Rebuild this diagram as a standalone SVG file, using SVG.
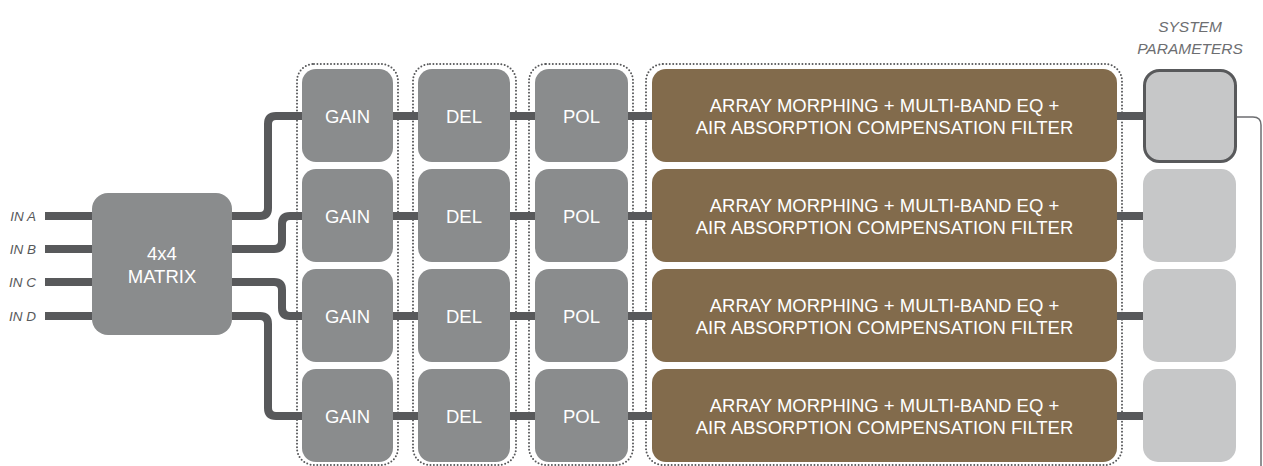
<svg xmlns="http://www.w3.org/2000/svg" width="1263" height="466" viewBox="0 0 1263 466">
<style>
.cont{fill:none;stroke:#58595b;stroke-width:2;stroke-dasharray:0 3.4;stroke-linecap:round}
.wire{fill:none;stroke:#58595b;stroke-width:8}
.blk{fill:#8a8c8d}
.arr{fill:#826b4c}
.sp{fill:#c6c7c8}
.wt{fill:#fff;font-family:"Liberation Sans",Arial,sans-serif;font-size:18.5px;text-anchor:middle}
.in{fill:#58595b;font-family:"Liberation Sans",Arial,sans-serif;font-size:13.5px;font-style:italic;text-anchor:end}
.hdr{fill:#6d6e71;font-family:"Liberation Sans",Arial,sans-serif;font-size:15.5px;font-style:italic;text-anchor:middle}
</style>
<rect width="1263" height="466" fill="#fff"/>
<g id="containers">
<rect class="cont" x="297" y="64" width="101" height="401" rx="17"/>
<rect class="cont" x="413" y="64" width="103" height="401" rx="17"/>
<rect class="cont" x="529" y="64" width="104" height="401" rx="17"/>
<rect class="cont" x="646" y="64" width="476" height="401" rx="17"/>
</g>
<g id="connectors">
<path class="wire" d="M45,216H92M45,249H92M45,282H92M45,316H92"/>
<path class="wire" d="M232,216H260Q268,216 268,208V124Q268,116 276,116H302"/>
<path class="wire" d="M232,249H274Q282,249 282,241V224Q282,216 290,216H302"/>
<path class="wire" d="M232,282H274Q282,282 282,290V308Q282,316 290,316H302"/>
<path class="wire" d="M232,316H260Q268,316 268,324V408Q268,416 276,416H302"/>
<path class="wire" d="M393,116H418M510,116H535M628,116H652M1117,116H1143"/>
<path class="wire" d="M393,216H418M510,216H535M628,216H652M1117,216H1143"/>
<path class="wire" d="M393,316H418M510,316H535M628,316H652M1117,316H1143"/>
<path class="wire" d="M393,416H418M510,416H535M628,416H652M1117,416H1143"/>
<path d="M1237,117H1253Q1261,117 1261,125V466" fill="none" stroke="#6d6e71" stroke-width="1.5"/>
</g>
<g id="inputs">
<text class="in" x="36" y="221">IN A</text>
<text class="in" x="36" y="254">IN B</text>
<text class="in" x="36" y="287">IN C</text>
<text class="in" x="36" y="321">IN D</text>
</g>
<g id="matrix">
<rect class="blk" x="92" y="193" width="140" height="142" rx="16"/>
<text class="wt" x="162" y="260" font-size="18">4x4</text>
<text class="wt" x="162" y="283" font-size="18">MATRIX</text>
</g>
<g id="row1">
<rect class="blk" x="302" y="69" width="91" height="93" rx="14"/><text class="wt" x="347.5" y="123">GAIN</text>
<rect class="blk" x="418" y="69" width="92" height="93" rx="14"/><text class="wt" x="464" y="123">DEL</text>
<rect class="blk" x="535" y="69" width="93" height="93" rx="14"/><text class="wt" x="581.5" y="123">POL</text>
<rect class="arr" x="652" y="69" width="465" height="93" rx="14"/>
<text class="wt" x="884.5" y="112">ARRAY MORPHING + MULTI-BAND EQ +</text>
<text class="wt" x="884.5" y="134">AIR ABSORPTION COMPENSATION FILTER</text>
</g>
<g id="row2">
<rect class="blk" x="302" y="169" width="91" height="93" rx="14"/><text class="wt" x="347.5" y="223">GAIN</text>
<rect class="blk" x="418" y="169" width="92" height="93" rx="14"/><text class="wt" x="464" y="223">DEL</text>
<rect class="blk" x="535" y="169" width="93" height="93" rx="14"/><text class="wt" x="581.5" y="223">POL</text>
<rect class="arr" x="652" y="169" width="465" height="93" rx="14"/>
<text class="wt" x="884.5" y="212">ARRAY MORPHING + MULTI-BAND EQ +</text>
<text class="wt" x="884.5" y="234">AIR ABSORPTION COMPENSATION FILTER</text>
</g>
<g id="row3">
<rect class="blk" x="302" y="269" width="91" height="93" rx="14"/><text class="wt" x="347.5" y="323">GAIN</text>
<rect class="blk" x="418" y="269" width="92" height="93" rx="14"/><text class="wt" x="464" y="323">DEL</text>
<rect class="blk" x="535" y="269" width="93" height="93" rx="14"/><text class="wt" x="581.5" y="323">POL</text>
<rect class="arr" x="652" y="269" width="465" height="93" rx="14"/>
<text class="wt" x="884.5" y="312">ARRAY MORPHING + MULTI-BAND EQ +</text>
<text class="wt" x="884.5" y="334">AIR ABSORPTION COMPENSATION FILTER</text>
</g>
<g id="row4">
<rect class="blk" x="302" y="369" width="91" height="93" rx="14"/><text class="wt" x="347.5" y="423">GAIN</text>
<rect class="blk" x="418" y="369" width="92" height="93" rx="14"/><text class="wt" x="464" y="423">DEL</text>
<rect class="blk" x="535" y="369" width="93" height="93" rx="14"/><text class="wt" x="581.5" y="423">POL</text>
<rect class="arr" x="652" y="369" width="465" height="93" rx="14"/>
<text class="wt" x="884.5" y="412">ARRAY MORPHING + MULTI-BAND EQ +</text>
<text class="wt" x="884.5" y="434">AIR ABSORPTION COMPENSATION FILTER</text>
</g>
<g id="system-parameters">
<text class="hdr" x="1190" y="32">SYSTEM</text>
<text class="hdr" x="1190" y="54">PARAMETERS</text>
<rect x="1144.5" y="70.5" width="91" height="91" rx="15" fill="#c6c7c8" stroke="#58595b" stroke-width="3"/>
<rect class="sp" x="1143" y="169" width="93" height="93" rx="15"/>
<rect class="sp" x="1143" y="269" width="93" height="93" rx="15"/>
<rect class="sp" x="1143" y="369" width="93" height="93" rx="15"/>
</g>
</svg>
